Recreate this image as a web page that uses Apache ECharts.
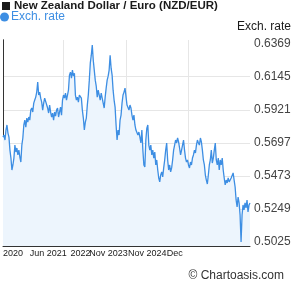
<!DOCTYPE html>
<html>
<head>
<meta charset="utf-8">
<script src="https://cdn.jsdelivr.net/npm/echarts@6/dist/echarts.min.js"></script>
<style>
html,body{margin:0;padding:0;background:#fff;}
#c{width:295px;height:288px;}
</style>
</head>
<body>
<div id="c"></div>
<script>
const title = 'New Zealand Dollar / Euro (NZD/EUR)';
const seriesName = 'Exch. rate';
const rates = [
0.5736,0.5750,0.5716,0.5784,0.5818,0.5763,0.5736,0.5648,0.5594,0.5513,
0.5547,0.5594,0.5682,0.5635,0.5662,0.5615,0.5648,0.5601,0.5567,0.5682,
0.5730,0.5818,0.5851,0.5804,0.5865,0.5838,0.5872,0.5851,0.5919,0.5933,
0.5906,0.5966,0.5987,0.6007,0.6041,0.6109,0.6021,0.6041,0.6000,0.5973,
0.5919,0.5966,0.6000,0.5987,0.6007,0.5933,0.5899,0.5953,0.5906,0.5872,
0.5899,0.5851,0.5906,0.5878,0.5919,0.5933,0.5872,0.5906,0.5939,0.5885,
0.5987,0.6021,0.6000,0.6034,0.5987,0.6000,0.6054,0.6156,0.6176,0.6136,
0.6190,0.6149,0.6169,0.6021,0.5987,0.6007,0.5973,0.6021,0.6034,0.6000,
0.5919,0.5865,0.5784,0.5838,0.5865,0.5953,0.6021,0.6122,0.6237,0.6291,
0.6359,0.6257,0.6190,0.6122,0.6081,0.6007,0.6054,0.6021,0.5987,0.6034,
0.6000,0.5966,0.5933,0.6007,0.6068,0.6122,0.6149,0.6190,0.6291,0.6203,
0.6156,0.6054,0.5987,0.5939,0.5818,0.5716,0.5784,0.5750,0.5851,0.5885,
0.5966,0.6021,0.6041,0.6068,0.6075,0.5953,0.5966,0.5919,0.5953,0.5933,
0.5885,0.5851,0.5885,0.5818,0.5784,0.5797,0.5750,0.5770,0.5736,0.5696,
0.5784,0.5648,0.5547,0.5533,0.5716,0.5797,0.5818,0.5682,0.5648,0.5682,
0.5615,0.5648,0.5594,0.5635,0.5547,0.5581,0.5513,0.5459,0.5432,0.5479,
0.5500,0.5466,0.5527,0.5581,0.5648,0.5696,0.5581,0.5513,0.5547,0.5500,
0.5527,0.5581,0.5648,0.5682,0.5716,0.5696,0.5730,0.5703,0.5662,0.5615,
0.5648,0.5682,0.5716,0.5648,0.5594,0.5567,0.5581,0.5547,0.5527,0.5567,
0.5547,0.5594,0.5615,0.5648,0.5628,0.5682,0.5716,0.5696,0.5682,0.5730,
0.5703,0.5648,0.5581,0.5547,0.5479,0.5445,0.5418,0.5479,0.5547,0.5581,
0.5648,0.5560,0.5594,0.5648,0.5696,0.5581,0.5547,0.5594,0.5513,0.5581,
0.5547,0.5594,0.5513,0.5459,0.5412,0.5445,0.5425,0.5459,0.5432,0.5445,
0.5459,0.5472,0.5493,0.5445,0.5398,0.5310,0.5263,0.5330,0.5290,0.5209,
0.5026,0.5209,0.5276,0.5242,0.5290,0.5256,0.5310,0.5229,0.5276,0.5290
];
const yTickLabels = [0.5025,0.5249,0.5473,0.5697,0.5921,0.6145,0.6369];
const yGridValues = [0.5249,0.5473,0.5697,0.5921,0.6145];
const xTickLabels = ['2020','Jun 2021','2022','Nov 2023','Nov 2024','Dec'];
const xTickIndex = [0,27,68,87,126,165];
const xGridIndex = [61,124,187];
const copyright = '\u00A9 Chartoasis.com';

const data = rates.map((v,i)=>[i,v]);
const chart = echarts.init(document.getElementById('c'), null, {renderer:'canvas'});
chart.setOption({
  animation:false,
  backgroundColor:'#fff',
  textStyle:{fontFamily:'Liberation Sans, Arial, sans-serif'},
  title:[
    {text:title,left:14,top:0,padding:0,textStyle:{fontSize:11.5,fontWeight:'bold',color:'#1a1a1a',fontFamily:'Liberation Sans, Arial'}},
    {text:seriesName,right:4,top:21,padding:0,textStyle:{fontSize:12,fontWeight:'normal',color:'#1a1a1a',fontFamily:'Liberation Sans, Arial'}},
    {text:copyright,right:11,top:270,padding:0,textStyle:{fontSize:12,fontWeight:'normal',color:'#333',fontFamily:'Liberation Sans, Arial'}}
  ],
  graphic:[{type:'rect',shape:{x:2,y:2,width:8,height:8},style:{fill:'#1a1a1a'}}],
  legend:{left:0,top:11,padding:0,itemWidth:9,itemHeight:9,icon:'circle',
    data:[seriesName],
    textStyle:{fontSize:12,color:'#3d8ee3',padding:[0,0,0,-3],fontFamily:'Liberation Sans, Arial'}},
  grid:{left:1,right:45,top:40,bottom:42},
  xAxis:{type:'value',min:0,max:rates.length-1,
    axisLine:{show:true,onZero:false,lineStyle:{color:'#333',width:1}},
    axisTick:{show:false,customValues:xGridIndex},
    splitLine:{show:true,lineStyle:{color:'#e6e6e6',width:1}},
    axisLabel:{customValues:xTickIndex,margin:3,align:'left',color:'#1a1a1a',fontSize:9,
      hideOverlap:false,showMinLabel:true,showMaxLabel:true,
      fontFamily:'Liberation Sans, Arial',
      formatter:(v)=>{const k=xTickIndex.indexOf(Math.round(v));return k>=0?xTickLabels[k]:'';}}
  },
  yAxis:[
    {type:'value',position:'right',min:0.4998,max:0.6394,
      axisLine:{show:true,lineStyle:{color:'#333',width:1}},
      axisTick:{show:false,customValues:yGridValues},
      splitLine:{show:true,lineStyle:{color:'#e6e6e6',width:1}},
      axisLabel:{customValues:yTickLabels,margin:4,color:'#444',fontSize:12,
        formatter:(v)=>v.toFixed(4)}
    },
    {type:'value',position:'left',min:0.4998,max:0.6394,
      axisLine:{show:true,lineStyle:{color:'#333',width:1}},
      axisTick:{show:false},splitLine:{show:false},axisLabel:{show:false}}
  ],
  series:[{
    name:seriesName,type:'line',data:data,showSymbol:false,symbol:'circle',
    lineStyle:{color:'#3d8ee3',width:1.3},
    itemStyle:{color:'#3d8ee3'},
    areaStyle:{color:'#edf5fd',origin:'start',opacity:1}
  }]
});
</script>
</body>
</html>
